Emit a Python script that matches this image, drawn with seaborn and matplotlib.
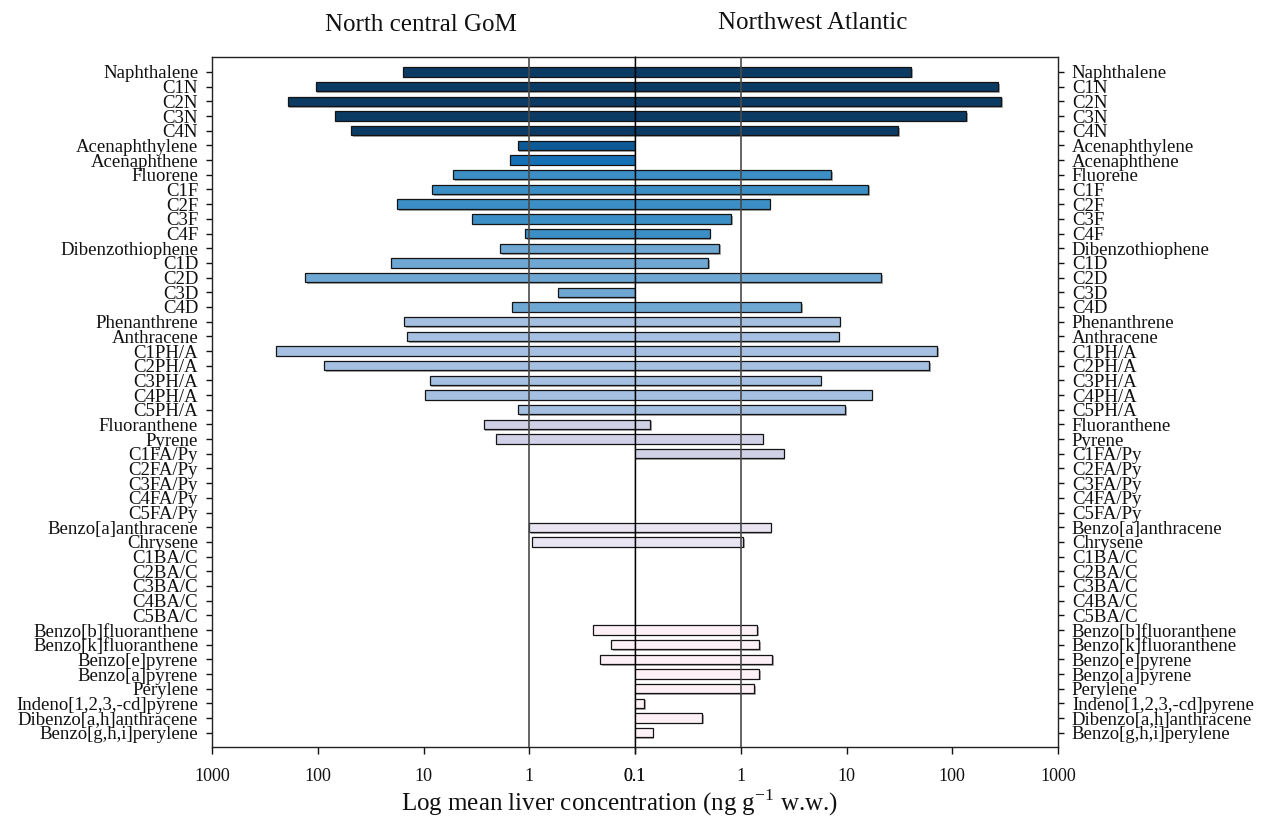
import numpy as np
import pandas as pd
import matplotlib
matplotlib.use("Agg")
import matplotlib.pyplot as plt
import matplotlib.patheffects as pe
from matplotlib.ticker import NullLocator
import seaborn as sns

NA = np.nan

compounds = [
    "Naphthalene", "C1N", "C2N", "C3N", "C4N",
    "Acenaphthylene", "Acenaphthene",
    "Fluorene", "C1F", "C2F", "C3F", "C4F",
    "Dibenzothiophene", "C1D", "C2D", "C3D", "C4D",
    "Phenanthrene", "Anthracene", "C1PH/A", "C2PH/A", "C3PH/A", "C4PH/A", "C5PH/A",
    "Fluoranthene", "Pyrene", "C1FA/Py", "C2FA/Py", "C3FA/Py", "C4FA/Py", "C5FA/Py",
    "Benzo[a]anthracene", "Chrysene", "C1BA/C", "C2BA/C", "C3BA/C", "C4BA/C", "C5BA/C",
    "Benzo[b]fluoranthene", "Benzo[k]fluoranthene", "Benzo[e]pyrene", "Benzo[a]pyrene",
    "Perylene", "Indeno[1,2,3,-cd]pyrene", "Dibenzo[a,h]anthracene", "Benzo[g,h,i]perylene",
]

groups = (["naphthalenes"] * 5 + ["acenaphthylene"] + ["acenaphthene"]
          + ["fluorenes"] * 5 + ["dibenzothiophenes"] * 5 + ["phenanthrenes"] * 7
          + ["fluoranthenes_pyrenes"] * 7 + ["benzanthracenes_chrysenes"] * 7
          + ["high_mw"] * 8)

# Mean liver concentrations (ng/g wet weight); NaN = not detected
gom_values = [
    15.5, 105, 192, 69, 48,
    1.29, 1.51,
    5.26, 8.3, 17.7, 3.45, 1.09,
    1.88, 20.3, 132, 0.54, 1.45,
    15.2, 14.2, 247, 87, 8.75, 9.75, 1.27,
    2.70, 2.08, NA, NA, NA, NA, NA,
    1.0, 0.935, NA, NA, NA, NA, NA,
    0.248, 0.168, 0.213, NA, NA, NA, NA, NA,
]

nwa_values = [
    41.0, 273, 289, 136, 30.9,
    NA, NA,
    7.13, 16.1, 1.88, 0.815, 0.508,
    0.628, 0.493, 21.4, NA, 3.74,
    8.61, 8.43, 72.3, 60.7, 5.70, 17.3, 9.68,
    0.140, 1.61, 2.55, NA, NA, NA, NA,
    1.92, 1.06, NA, NA, NA, NA, NA,
    1.43, 1.50, 1.99, 1.50, 1.33, 0.122, 0.434, 0.147,
]

group_colors = {
    "naphthalenes": "#0b3a63",
    "acenaphthylene": "#0e5a97",
    "acenaphthene": "#1570b6",
    "fluorenes": "#3b8fc6",
    "dibenzothiophenes": "#6fa7d3",
    "phenanthrenes": "#a6c0e1",
    "fluoranthenes_pyrenes": "#d0d1e7",
    "benzanthracenes_chrysenes": "#e8e4f2",
    "high_mw": "#fdf0f6",
}

tick_values = [1000, 100, 10, 1, 0.1]
tick_labels = ["1000", "100", "10", "1", "0.1"]

sns.set_theme(style="white")
plt.rcParams["font.family"] = ["Liberation Serif", "DejaVu Serif"]

fig = plt.figure(figsize=(12.62, 8.24), dpi=100)
ax_l = fig.add_axes([0.168, 0.0934, 0.3352, 0.8374])
ax_r = fig.add_axes([0.5032, 0.0934, 0.3352, 0.8374])


def draw_panel(ax, values, xlim):
    df = pd.DataFrame({"compound": compounds, "group": groups, "value": values})
    sns.barplot(
        data=df, x="value", y="compound", hue="group", order=compounds,
        hue_order=list(group_colors), palette=group_colors, dodge=False,
        width=0.64, errorbar=None, orient="h", saturation=1,
        edgecolor="#141414", linewidth=0.9, legend=False, ax=ax,
    )
    # bars start at zero, which the log axis clips to the panel's inner edge
    ax.set_xscale("log")
    for p in ax.patches:
        p.set_path_effects([
            pe.SimplePatchShadow(offset=(1.2, -1.2), shadow_rgbFace="0.45", alpha=0.6),
            pe.Normal(),
        ])
    ax.set_xlim(*xlim)
    ax.set_ylim(45.97, -1.02)
    ax.set_xticks(tick_values)
    ax.set_xticklabels(tick_labels)
    ax.xaxis.set_minor_locator(NullLocator())
    ax.axvline(1, color="#4a4a4a", lw=1.2, zorder=5)
    ax.set_xlabel("")
    ax.set_ylabel("")
    ax.tick_params(axis="x", length=5, width=1, direction="out", labelsize=13,
                   pad=10, bottom=True, colors="#111111")
    ax.tick_params(axis="y", length=4, width=1, direction="out", labelsize=13.5,
                   pad=6, colors="#111111")
    for s in ax.spines.values():
        s.set_visible(True)
        s.set_color("#222222")
        s.set_linewidth(1.0)


draw_panel(ax_l, gom_values, (1000, 0.1))
draw_panel(ax_r, nwa_values, (0.1, 1000))

ax_l.tick_params(axis="y", left=True, right=False, labelleft=True, labelright=False)
ax_r.tick_params(axis="y", left=False, right=True, labelleft=False, labelright=True)
ax_l.spines["right"].set_color("#000000")
ax_r.spines["left"].set_color("#000000")

fig.text(421 / 1262, 1 - 25 / 824, "North central GoM", ha="center", va="center",
         fontsize=18, color="#111111")
fig.text(813 / 1262, 1 - 23 / 824, "Northwest Atlantic", ha="center", va="center",
         fontsize=18, color="#111111")
fig.text(620 / 1262, 1 - 803 / 824,
         "Log mean liver concentration (ng g$^{\\mathregular{-1}}$ w.w.)",
         ha="center", va="center", fontsize=18, color="#111111")

fig.savefig("out.png", dpi=100, facecolor="white")
